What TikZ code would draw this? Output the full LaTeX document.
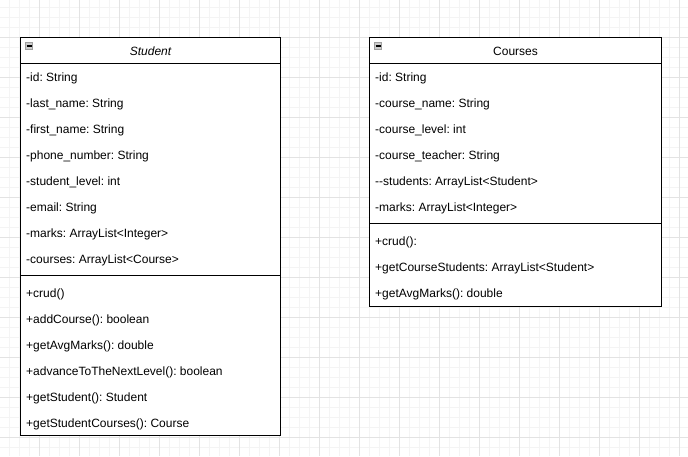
\documentclass[tikz,border=0pt]{standalone}
\usepackage{fontspec}
\setmainfont{Liberation Sans}
\frenchspacing
\tikzset{
    member/.style={anchor=base west,inner sep=0pt,font=\fontsize{12}{14}\selectfont},
    title/.style={anchor=base,inner sep=0pt,font=\fontsize{12}{14}\selectfont},
    classbox/.style={draw,line width=1pt,rectangle,inner sep=0pt},
    togglebox/.style={draw=gray!75,fill=gray!40,line width=1pt,minimum size=7pt,inner sep=0pt}
}
\begin{document}
    \begin{tikzpicture}[x=1pt,y=-1pt]
        \useasboundingbox (0,0) rectangle (688,456);
        \fill[white] (0,0) rectangle (688,456);
        % grid
        \begin{scope}[line width=0.6pt]
            \foreach \x in {0,...,67}
                \draw[gray!9] (9.5+10*\x,0) -- (9.5+10*\x,456);
            \foreach \y in {0,...,44}
                \draw[gray!9] (0,7.3+10*\y) -- (688,7.3+10*\y);
            \foreach \x in {0,...,16}
                \draw[gray!22] (39.5+40*\x,0) -- (39.5+40*\x,456);
            \foreach \y in {0,...,10}
                \draw[gray!22] (0,37.3+40*\y) -- (688,37.3+40*\y);
        \end{scope}
        % boxes
        \begin{scope}[every node/.style={classbox,fill=white}]
            \node[minimum width=260pt,minimum height=398pt] (student) at (150.5,236.5) {};
            \node[minimum width=292pt,minimum height=269pt] (courses) at (515.5,171.8) {};
        \end{scope}
        \draw[line width=1pt] (student.west |- 0,63.5) -- (student.east |- 0,63.5);
        \draw[line width=1pt] (student.west |- 0,275.5) -- (student.east |- 0,275.5);
        \draw[line width=1pt] (courses.west |- 0,63.5) -- (courses.east |- 0,63.5);
        \draw[line width=1pt] (courses.west |- 0,223.5) -- (courses.east |- 0,223.5);
        % toggles
        \node[togglebox] (stoggle) at (29,46) {};
        \node[togglebox] (ctoggle) at (378,46) {};
        \draw[line width=1.2pt] ([xshift=-2.5pt]stoggle.center) -- ([xshift=2.5pt]stoggle.center);
        \draw[line width=1.2pt] ([xshift=-2.5pt]ctoggle.center) -- ([xshift=2.5pt]ctoggle.center);
        % titles
        \node[title,font=\fontsize{12}{14}\selectfont\itshape] (stitle) at (150.5,55) {Student};
        \node[title] (ctitle) at (515.5,55) {Courses};
        % student members
        \foreach \t [count=\i from 0] in {-id: String,-last\_name: String,-first\_name: String,-phone\_number: String,-student\_level: int,-email: String,-marks: ArrayList<Integer>,-courses: ArrayList<Course>}
            \node[member] (sa\i) at (26,81+26*\i) {\t};
        \foreach \t [count=\i from 0] in {+crud(),+addCourse(): boolean,+getAvgMarks(): double,+advanceToTheNextLevel(): boolean,+getStudent(): Student,+getStudentCourses(): Course}
            \node[member] (sm\i) at (26,297.5+26*\i) {\t};
        % courses members
        \foreach \t [count=\i from 0] in {-id: String,-course\_name: String,-course\_level: int,-course\_teacher: String,-{}-students: ArrayList<Student>,-marks: ArrayList<Integer>}
            \node[member] (ca\i) at (375,81+26*\i) {\t};
        \foreach \t [count=\i from 0] in {+crud():,+getCourseStudents: ArrayList<Student>,+getAvgMarks(): double}
            \node[member] (cm\i) at (375,245.8+26*\i) {\t};
    \end{tikzpicture}
\end{document}
